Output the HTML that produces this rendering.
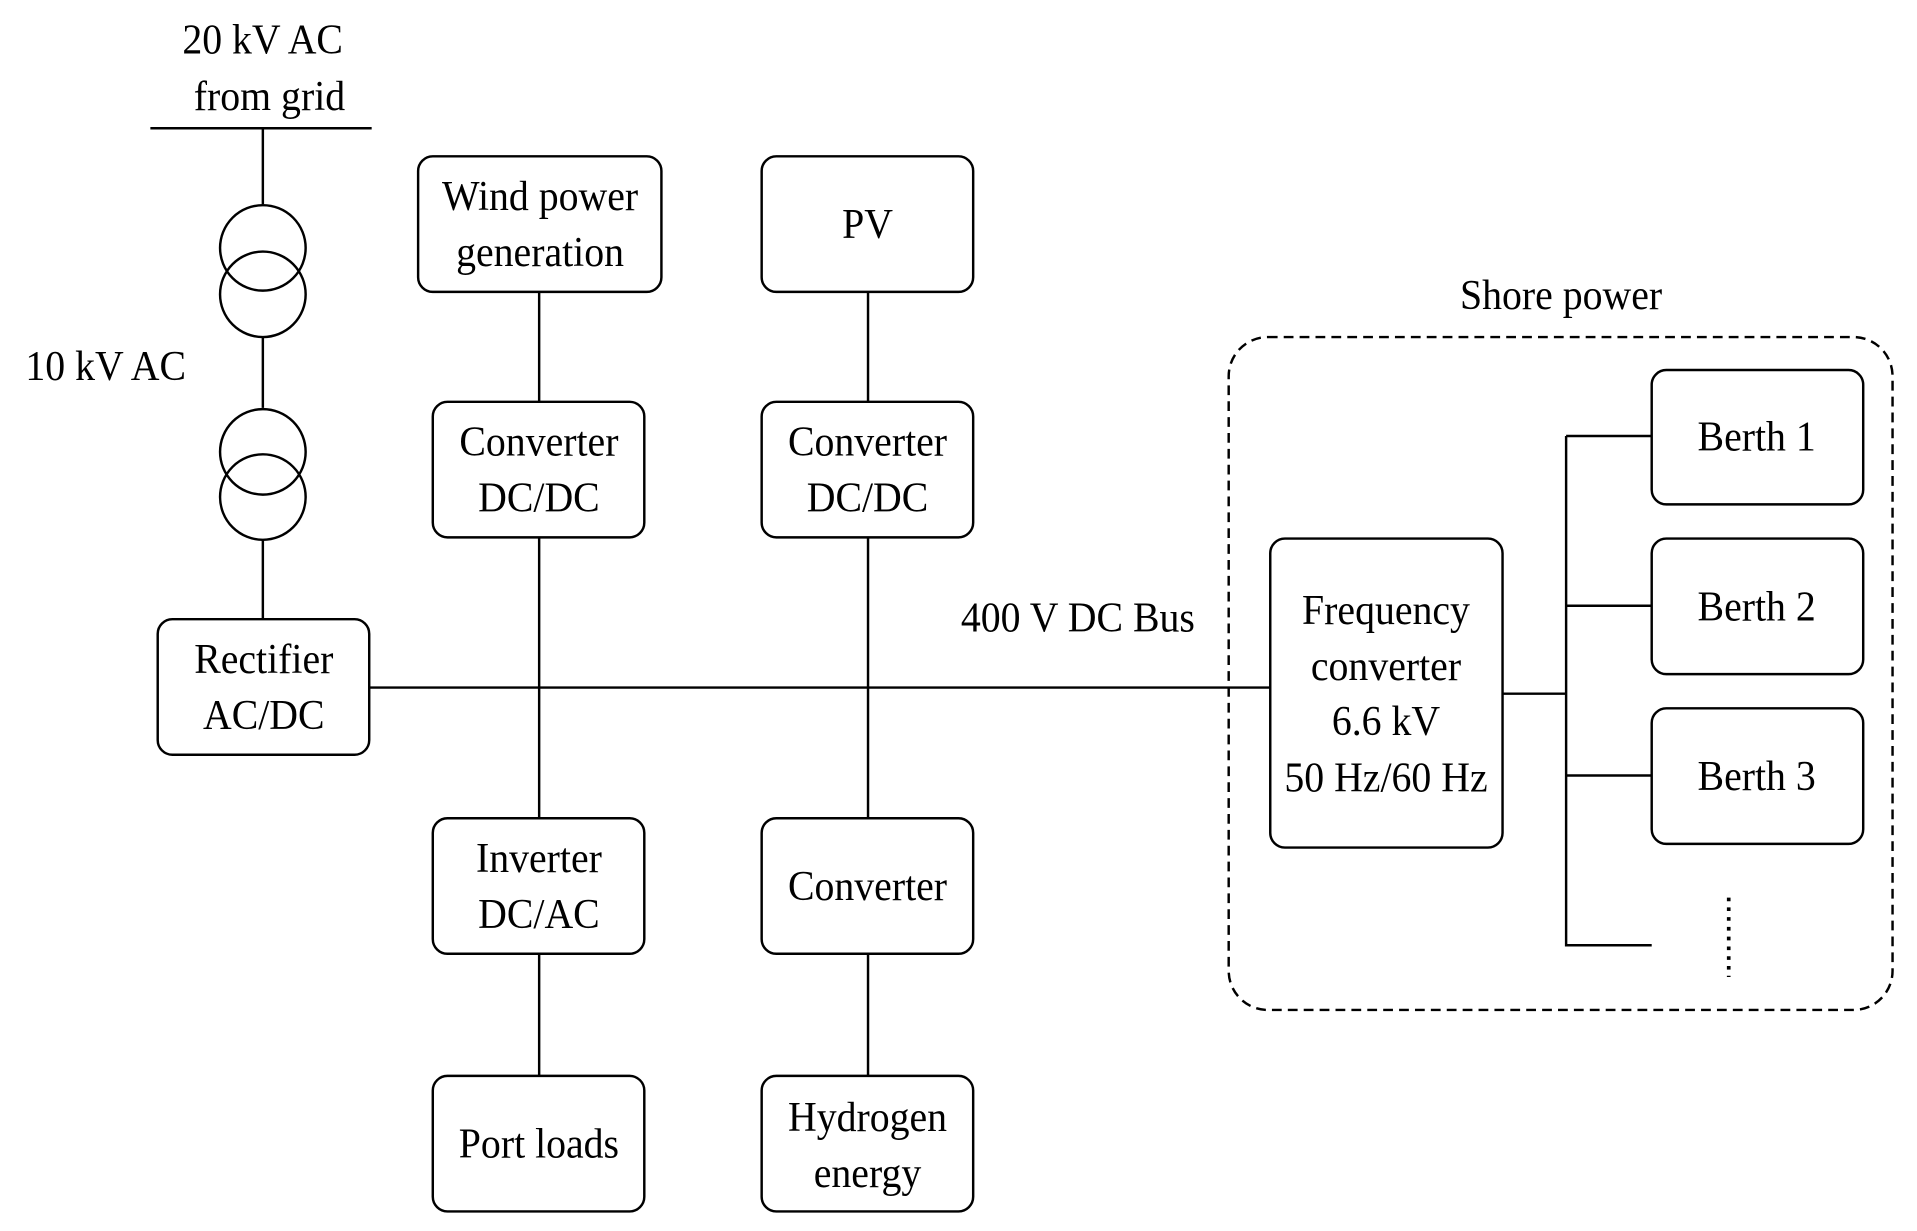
<!DOCTYPE html>
<html><head><meta charset="utf-8"><style>
html,body{margin:0;padding:0;background:#fff;}
svg{display:block;}
text{font-family:"Liberation Serif",serif;font-size:35px;fill:#000;text-anchor:middle;}
</style></head><body>
<svg width="1917" height="1231" viewBox="0 0 1568 1008" preserveAspectRatio="none" xmlns="http://www.w3.org/2000/svg">
<g stroke="#000" stroke-width="2" fill="none">
<line x1="123" y1="105" x2="304" y2="105"/>
<line x1="215" y1="105" x2="215" y2="167"/>
<circle cx="215" cy="203" r="35"/><circle cx="215" cy="241" r="35"/>
<line x1="215" y1="276" x2="215" y2="334"/>
<circle cx="215" cy="370" r="35"/><circle cx="215" cy="407" r="35"/>
<line x1="215" y1="442" x2="215" y2="507"/>
<line x1="302" y1="563" x2="1039" y2="563"/>
<line x1="441" y1="239" x2="441" y2="881"/>
<line x1="710" y1="239" x2="710" y2="881"/>
<rect x="1005" y="276" width="543" height="551" rx="32" stroke-dasharray="8,5"/>
<g fill="#fff">
<rect x="342" y="128" width="199" height="111" rx="12"/>
<rect x="623" y="128" width="173" height="111" rx="12"/>
<rect x="354" y="329" width="173" height="111" rx="12"/>
<rect x="623" y="329" width="173" height="111" rx="12"/>
<rect x="129" y="507" width="173" height="111" rx="12"/>
<rect x="354" y="670" width="173" height="111" rx="12"/>
<rect x="623" y="670" width="173" height="111" rx="12"/>
<rect x="354" y="881" width="173" height="111" rx="12"/>
<rect x="623" y="881" width="173" height="111" rx="12"/>
<rect x="1039" y="441" width="190" height="253" rx="12"/>
<rect x="1351" y="303" width="173" height="110" rx="12"/>
<rect x="1351" y="441" width="173" height="111" rx="12"/>
<rect x="1351" y="580" width="173" height="111" rx="12"/>
</g>
<line x1="1281" y1="357" x2="1281" y2="775"/>
<line x1="1229" y1="568" x2="1281" y2="568"/>
<line x1="1281" y1="357" x2="1351" y2="357"/>
<line x1="1281" y1="496" x2="1351" y2="496"/>
<line x1="1281" y1="635" x2="1351" y2="635"/>
<line x1="1281" y1="774" x2="1351" y2="774"/>
<line x1="1414" y1="735" x2="1414" y2="800" stroke-width="3" stroke-dasharray="3,5"/>
</g>
<g transform="scale(0.93,1)">
<text x="231" y="44">20 kV AC</text>
<text x="237" y="90">from grid</text>
<text x="93" y="311">10 kV AC</text>
<text x="475" y="172">Wind power</text>
<text x="475" y="218">generation</text>
<text x="763" y="195">PV</text>
<text x="474" y="373">Converter</text>
<text x="474" y="419">DC/DC</text>
<text x="763" y="373">Converter</text>
<text x="763" y="419">DC/DC</text>
<text x="232" y="551">Rectifier</text>
<text x="232" y="597">AC/DC</text>
<text x="948" y="517">400 V DC Bus</text>
<text x="474" y="714">Inverter</text>
<text x="474" y="760">DC/AC</text>
<text x="763" y="737">Converter</text>
<text x="474" y="948">Port loads</text>
<text x="763" y="926">Hydrogen</text>
<text x="763" y="972">energy</text>
<text x="1373" y="253">Shore power</text>
<text x="1219" y="511">Frequency</text>
<text x="1219" y="557">converter</text>
<text x="1219" y="602">6.6 kV</text>
<text x="1219" y="648">50 Hz/60 Hz</text>
<text x="1545" y="369">Berth 1</text>
<text x="1545" y="508">Berth 2</text>
<text x="1545" y="647">Berth 3</text>
</g>
</svg>
</body></html>
